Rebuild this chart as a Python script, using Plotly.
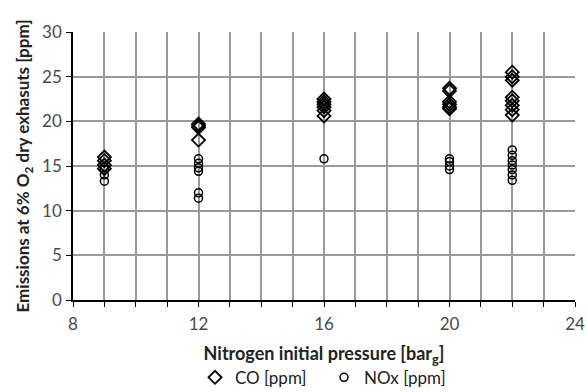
import plotly.graph_objects as go

co_x = [9, 9, 9, 9,
        12, 12, 12, 12,
        16, 16, 16, 16, 16, 16,
        20, 20, 20, 20, 20, 20,
        22, 22, 22, 22, 22, 22, 22, 22]
co_y = [16.0, 15.6, 15.1, 14.7,
        19.7, 19.5, 19.3, 17.9,
        22.5, 22.2, 21.9, 21.6, 21.2, 20.6,
        23.7, 23.4, 22.2, 21.9, 21.6, 21.4,
        25.5, 25.0, 24.6, 22.7, 22.3, 21.8, 21.3, 20.7]

nox_x = [9, 9, 9,
         12, 12, 12, 12, 12, 12,
         16,
         20, 20, 20, 20,
         22, 22, 22, 22, 22, 22, 22]
nox_y = [14.6, 14.0, 13.3,
         15.8, 15.3, 14.8, 14.4, 12.0, 11.4,
         15.8,
         15.8, 15.5, 15.0, 14.6,
         16.8, 16.2, 15.6, 15.1, 14.6, 14.0, 13.4]

x_ticks = list(range(8, 25))
x_labels = [str(v) if v % 4 == 0 else "" for v in x_ticks]
y_ticks = [0, 5, 10, 15, 20, 25, 30]

fig = go.Figure()
fig.add_trace(go.Scatter(
    x=co_x, y=co_y, mode="markers", name="CO [ppm]",
    marker=dict(symbol="diamond-open", size=10, color="black", line=dict(width=1.8, color="black")),
))
fig.add_trace(go.Scatter(
    x=nox_x, y=nox_y, mode="markers", name="NOx [ppm]",
    marker=dict(symbol="circle-open", size=8, color="black", line=dict(width=1.5, color="black")),
))

font_family = "Lato, Open Sans, sans-serif"
fig.update_layout(
    width=587, height=392,
    margin=dict(l=73, r=12, t=32, b=92, autoexpand=False),
    paper_bgcolor="white", plot_bgcolor="white",
    font=dict(family=font_family, size=17, color="#4a4a4a"),
    showlegend=True,
    legend=dict(orientation="h", x=0.5, xanchor="center", y=-0.29, yanchor="middle",
                font=dict(size=17, color="#222"), itemwidth=30,
                entrywidth=84, entrywidthmode="pixels"),
    xaxis=dict(
        range=[8, 24], tickmode="array", tickvals=x_ticks, ticktext=x_labels,
        showgrid=True, gridcolor="#9a9a9a", gridwidth=1.5,
        showline=True, linecolor="black", linewidth=1.5,
        ticks="outside", ticklen=5, tickcolor="black",
        ticklabelstandoff=3, automargin=False,
        zeroline=False,
        title=dict(text="<b>Nitrogen initial pressure [bar<sub>g</sub>]</b>", font=dict(size=18, color="#222"), standoff=14),
    ),
    yaxis=dict(
        range=[0, 30], tickmode="array", tickvals=y_ticks,
        showgrid=True, gridcolor="#9a9a9a", gridwidth=1.5,
        showline=True, linecolor="black", linewidth=1.5,
        ticks="outside", ticklen=5, tickcolor="black",
        ticklabelstandoff=1, automargin=False,
        zeroline=False,
        title=dict(text="<b>Emissions at 6% O<sub>2</sub> dry exhasuts [ppm]</b>", font=dict(size=17, color="#222"), standoff=8),
    ),
)

fig.write_html("out.html", config={"displayModeBar": False},
               post_script="document.body.style.margin='0';document.body.style.overflow='hidden';")
